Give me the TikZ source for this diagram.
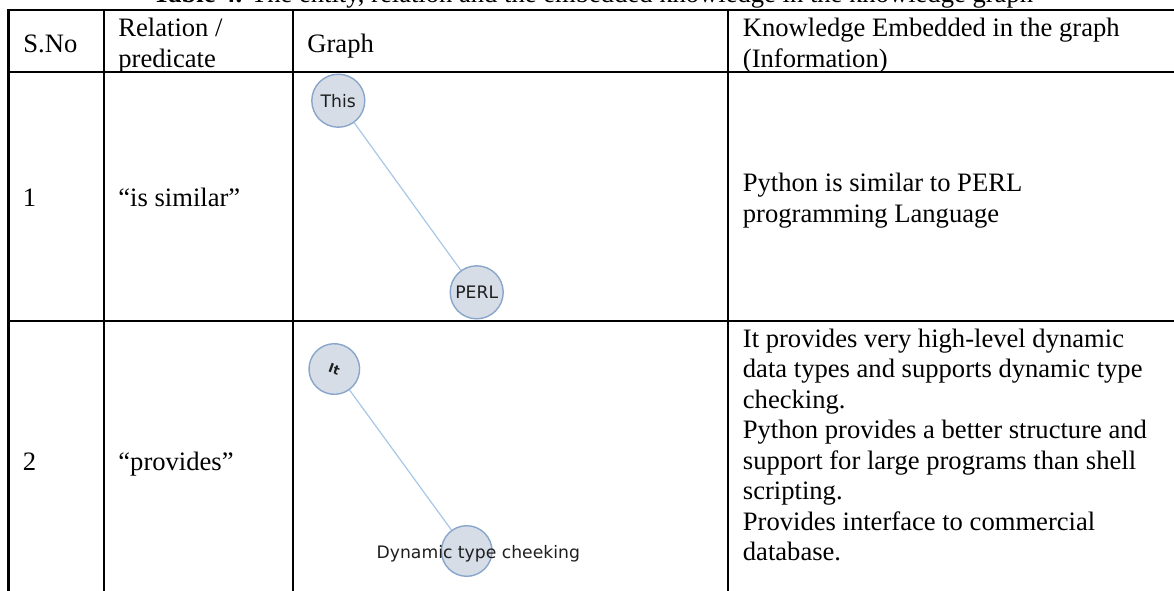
\documentclass[tikz,border=0pt]{standalone}
\usepackage{fontspec}
\setmainfont{Liberation Serif}
\newfontfamily\gfont{DejaVu Sans}
\definecolor{nodefill}{RGB}{214,221,231}
\definecolor{nodeborder}{RGB}{137,166,202}
\definecolor{edgecol}{RGB}{168,199,230}
\definecolor{labelcol}{RGB}{30,30,30}
\begin{document}
\begin{tikzpicture}[x=0.5pt,y=-0.5pt,
  rule/.style={line width=1.25pt, black},
  cell/.style={anchor=base west, inner sep=0pt, font=\fontsize{13.3}{15.25}\selectfont},
  gnode/.style={circle, draw=nodeborder, fill=nodefill, line width=0.7pt, minimum size=26.5pt, inner sep=0pt,
                font=\gfont\fontsize{8.6}{10}\selectfont, text=labelcol},
  glabel/.style={inner sep=0pt, font=\gfont\fontsize{8.6}{10}\selectfont, text=labelcol},
  gedge/.style={draw=edgecol, line width=0.6pt}]
\useasboundingbox (0,0) rectangle (1174,590);

% title (clipped at the top of the page)
\node[anchor=base, inner sep=0pt, font=\fontsize{13.3}{15.25}\selectfont] (title) at (593,2)
  {\textbf{Table 4.} The entity, relation and the embedded knowledge in the knowledge graph};

% table rules
\draw[rule] (8.3,10) -- (1190,10);
\draw[rule] (8.3,72) -- (1190,72);
\draw[rule] (8.3,321) -- (1190,321);
\foreach \x in {8.3,104,293,728} \draw[rule] (\x,9.4) -- (\x,600);

% header
\node[cell] (hsno) at (23,52) {S.No};
\node[cell] (hrel) at (118,36.5) {\parbox[t]{120pt}{Relation /\\predicate}};
\node[cell] (hgraph) at (307,52) {Graph};
\node[cell] (hknow) at (742.5,36.5) {\parbox[t]{250pt}{Knowledge Embedded in the graph\\(Information)}};

% row 1
\node[cell] (n1) at (22.5,206.5) {1};
\node[cell] (r1) at (118,206.5) {“is similar”};
\node[cell] (k1) at (742.5,191.5) {\parbox[t]{250pt}{Python is similar to PERL\\programming Language}};
\node[gnode] (this) at (338.3,100.7) {This};
\node[gnode] (perl) at (476.7,292.3) {PERL};
\draw[gedge] (this) -- (perl);

% row 2
\node[cell] (n2) at (22.5,470) {2};
\node[cell] (r2) at (118,470) {“provides”};
\node[cell] (k2) at (742.5,347.3) {\parbox[t]{250pt}{It provides very high-level dynamic\\data types and supports dynamic type\\checking.\\Python provides a better structure and\\support for large programs than shell\\scripting.\\Provides interface to commercial\\database.}};
\node[gnode, minimum size=25.3pt, rotate=-20, font=\gfont\bfseries\fontsize{6.3}{8}\selectfont] (it) at (334.3,369) {It};
\node[gnode, minimum size=25.3pt] (dyn) at (466.7,551) {};
\node[glabel] (dynlabel) at (478.3,554) {Dynamic type cheeking};
\draw[gedge] (it) -- (dyn);
\end{tikzpicture}
\end{document}
